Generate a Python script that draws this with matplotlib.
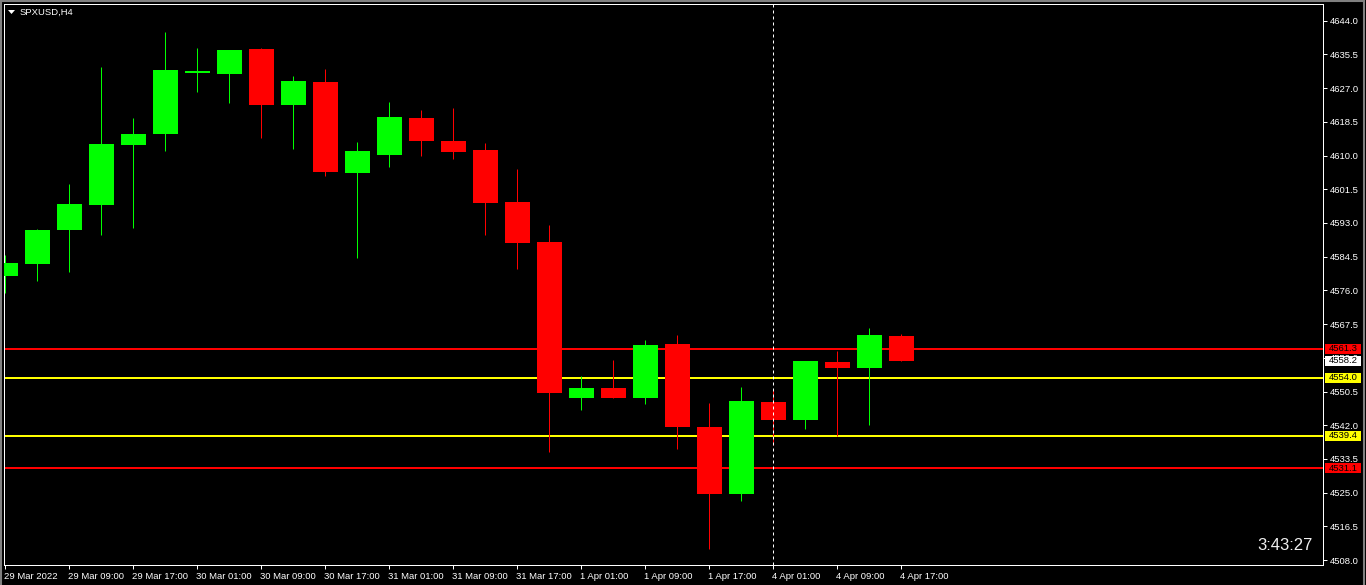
import matplotlib
matplotlib.use("Agg")
import matplotlib.pyplot as plt
import matplotlib.transforms as mtransforms
from matplotlib.patches import Rectangle, Polygon
from matplotlib.lines import Line2D

plt.rcParams['font.family'] = ['Liberation Sans', 'DejaVu Sans']

# H4 candles, 29 Mar 01:00 .. 4 Apr 17:00
opens  = [4579.7, 4582.7, 4591.3, 4597.6, 4612.7, 4615.3, 4630.8, 4630.6, 4636.9, 4622.8,
          4628.5, 4605.7, 4610.2, 4619.5, 4613.7, 4611.4, 4598.3, 4588.2, 4548.9, 4551.4,
          4548.9, 4562.5, 4541.6, 4524.7, 4547.9, 4543.4, 4557.9, 4556.5, 4564.5]
closes = [4582.9, 4591.2, 4597.8, 4612.9, 4615.4, 4631.6, 4631.2, 4636.6, 4622.8, 4628.8,
          4605.9, 4611.1, 4619.7, 4613.7, 4611.0, 4598.1, 4588.0, 4550.2, 4551.4, 4548.9,
          4562.2, 4541.6, 4524.7, 4548.1, 4543.4, 4558.2, 4556.5, 4564.75, 4558.2]
highs  = [4584.9, 4591.5, 4602.8, 4632.3, 4619.5, 4641.2, 4637.1, 4636.6, 4637.1, 4630.1,
          4631.8, 4613.4, 4623.5, 4621.5, 4622.0, 4613.2, 4606.6, 4592.5, 4554.5, 4558.4,
          4563.5, 4564.75, 4547.6, 4551.6, 4550.9, 4558.2, 4560.7, 4566.5, 4565.0]
lows   = [4575.4, 4578.4, 4580.7, 4590.0, 4591.8, 4611.2, 4626.1, 4623.3, 4614.5, 4611.7,
          4604.9, 4584.2, 4607.2, 4610.0, 4609.2, 4590.0, 4581.5, 4535.3, 4545.9, 4548.9,
          4547.4, 4536.1, 4510.8, 4523.0, 4537.0, 4541.1, 4539.3, 4542.1, 4558.2]

time_labels = ["29 Mar 2022", "29 Mar 09:00", "29 Mar 17:00", "30 Mar 01:00", "30 Mar 09:00",
               "30 Mar 17:00", "31 Mar 01:00", "31 Mar 09:00", "31 Mar 17:00", "1 Apr 01:00",
               "1 Apr 09:00", "1 Apr 17:00", "4 Apr 01:00", "4 Apr 09:00", "4 Apr 17:00"]
price_ticks = [4644.0, 4635.5, 4627.0, 4618.5, 4610.0, 4601.5, 4593.0, 4584.5, 4576.0,
               4567.5, 4559.0, 4550.5, 4542.0, 4533.5, 4525.0, 4516.5, 4508.0]

# horizontal levels (price, colour)
levels = [4561.3, 4554.0, 4539.4, 4531.1]
level_colors = ['#ff0000', '#ffff00', '#ffff00', '#ff0000']
last_price = 4558.2
timer = "3:43:27"
title = "SPXUSD,H4"

GREEN = '#00ff00'
RED = '#ff0000'
W, H = 1366, 585

fig = plt.figure(figsize=(13.66, 5.85), dpi=100, facecolor='black')
ax = fig.add_axes([4 / W, 20 / H, 1319 / W, 561 / H], facecolor='black')

px = 0.72  # one pixel in points
for i in range(len(opens)):
	o, c, h, l = opens[i], closes[i], highs[i], lows[i]
	col = GREEN if c >= o else RED
	ax.vlines(i, l, h, color=col, lw=px, zorder=3)
	ax.bar(i, abs(c - o), bottom=min(o, c), width=0.78, color=col, lw=0, zorder=4)

for p, col in zip(levels, level_colors):
	ax.axhline(p, color=col, lw=2 * px, zorder=2)

ax.axvline(24, color='white', lw=px, ls=(0, (3, 3)), zorder=5)

ax.set_xlim(-0.04, 41.18)
ax.set_ylim(4506.76, 4648.2)

ax.set_xticks(range(0, 29, 2))
ax.set_xticklabels(time_labels, ha='left')
ax.set_yticks(price_ticks)
ax.set_yticklabels(["%.1f" % t for t in price_ticks])
ax.yaxis.tick_right()
ax.tick_params(axis='both', colors='white', labelcolor='white', labelsize=6.8,
               length=3, width=px, direction='out')
ax.tick_params(axis='x', pad=2)
ax.tick_params(axis='y', pad=2)
for lab in ax.get_xticklabels():
	lab.set_transform(lab.get_transform() + mtransforms.ScaledTranslation(-1 / 100, 0, fig.dpi_scale_trans))
for s in ax.spines.values():
	s.set_color('white')
	s.set_linewidth(px)

# price boxes on the right scale
trans = mtransforms.blended_transform_factory(ax.transAxes, ax.transData)
box_w = 36 / 1319
box_h = 10 / 3.966
boxes = [(levels[0], '#ff0000'), (last_price, '#ffffff'), (levels[1], '#ffff00'),
         (levels[2], '#ffff00'), (levels[3], '#ff0000')]
for p, col in boxes:
	ax.add_patch(Rectangle((1.0015, p - box_h / 2), box_w, box_h, transform=trans,
	                       facecolor=col, edgecolor='none', clip_on=False, zorder=6))
	ax.text(1.0015 + box_w / 2, p, "%.1f" % p, transform=trans, ha='center', va='center',
	        color='black', fontsize=6.8, clip_on=False, zorder=7)

# title and timer
ax.add_patch(Polygon([(8 / W, 1 - 10 / H), (15 / W, 1 - 10 / H), (11.5 / W, 1 - 14 / H)],
                     closed=True, transform=fig.transFigure, facecolor='white',
                     edgecolor='none', zorder=8, clip_on=False))
fig.text(20 / W, 1 - 12 / H, title, color='white', fontsize=6.8, ha='left', va='center')
fig.text(1313 / W, 1 - 546 / H, timer, color='#f0f0f0', fontsize=12, ha='right', va='center')

# grey outer border
for xs, ys in [((0.5 / W, 0.5 / W), (0, 1)), ((0, 1364 / W), (1 - 0.5 / H, 1 - 0.5 / H)),
               ((1363.5 / W, 1363.5 / W), (0, 1))]:
	fig.add_artist(Line2D(xs, ys, color='#808080', lw=1.5, transform=fig.transFigure))

fig.savefig('out.png', dpi=100, facecolor='black')
